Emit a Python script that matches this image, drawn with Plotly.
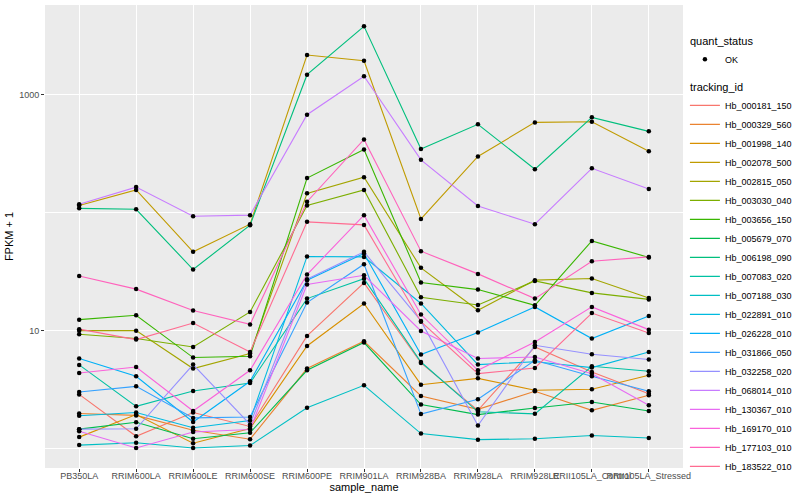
import plotly.graph_objects as go

samples = ["PB350LA", "RRIM600LA", "RRIM600LE", "RRIM600SE", "RRIM600PE", "RRIM901LA",
           "RRIM928BA", "RRIM928LA", "RRIM928LE", "RRII105LA_Control", "RRII105LA_Stressed"]

tracking_ids = ["Hb_000181_150", "Hb_000329_560", "Hb_001998_140", "Hb_002078_500", "Hb_002815_050",
                "Hb_003030_040", "Hb_003656_150", "Hb_005679_070", "Hb_006198_090", "Hb_007083_020",
                "Hb_007188_030", "Hb_022891_010", "Hb_026228_010", "Hb_031866_050", "Hb_032258_020",
                "Hb_068014_010", "Hb_130367_010", "Hb_169170_010", "Hb_177103_010", "Hb_183522_010"]

colors = ["#F8766D", "#EA8331", "#D89000", "#C09B00", "#A3A500", "#7CAE00", "#39B600", "#00BB4E",
          "#00BF7D", "#00C1A3", "#00BFC4", "#00BAE0", "#00B0F6", "#35A2FF", "#9590FF", "#C77CFF",
          "#E76BF3", "#FA62DB", "#FF62BC", "#FF6C91"]

# FPKM + 1 per sample (same order as samples)
Hb_000181_150 = [2.88, 1.27, 2.02, 1.54, 9.02, 25.4, 5.32, 2.11, 7.27, 4.46, 2.92]
Hb_000329_560 = [1.98, 1.91, 1.43, 1.20, 4.77, 8.13, 2.79, 2.15, 3.06, 2.11, 2.83]
Hb_001998_140 = [1.25, 1.94, 1.11, 1.48, 7.41, 17.0, 3.48, 3.94, 3.12, 3.18, 4.18]
Hb_002078_500 = [115, 156, 46.6, 80, 2177, 1947, 88.7, 300, 584, 591, 333]
Hb_002815_050 = [10.0, 10.0, 4.77, 6.39, 146, 200, 34.1, 14.9, 26.8, 27.7, 18.9]
Hb_003030_040 = [9.32, 8.57, 7.27, 14.4, 115, 156, 19.2, 16.5, 26.4, 20.9, 18.4]
Hb_003656_150 = [12.4, 13.5, 5.91, 6.06, 197, 344, 25.6, 22.3, 16.4, 57.7, 41.8]
Hb_005679_070 = [1.46, 1.67, 1.21, 1.36, 4.61, 7.93, 2.36, 1.94, 2.21, 2.48, 2.08]
Hb_006198_090 = [109, 107, 33, 78.5, 1482, 3813, 347, 562, 234, 644, 490]
Hb_007083_020 = [5.12, 2.28, 3.08, 3.60, 18.7, 27.6, 5.42, 2.05, 1.97, 4.99, 4.52]
Hb_007188_030 = [1.07, 1.12, 1.01, 1.06, 2.22, 3.44, 1.34, 1.19, 1.21, 1.29, 1.23]
Hb_022891_010 = [1.90, 2.02, 1.50, 1.73, 42.6, 42.2, 17.0, 5.15, 5.45, 4.86, 6.59]
Hb_026228_010 = [5.80, 4.10, 1.68, 3.72, 26.8, 45.1, 6.27, 9.64, 15.9, 8.57, 13.3]
Hb_031866_050 = [3.02, 3.37, 1.82, 1.85, 17.3, 36.6, 1.96, 2.62, 5.61, 4.10, 3.06]
Hb_032258_020 = [1.46, 1.47, 5.15, 1.60, 27.3, 46.6, 12.1, 1.57, 7.52, 6.31, 5.69]
Hb_068014_010 = [118, 165, 93.5, 95.4, 678, 1436, 281, 114, 80, 238, 159]
Hb_130367_010 = [1.40, 1.01, 1.38, 1.45, 24.6, 29.5, 9.94, 5.80, 5.98, 4.31, 2.33]
Hb_169170_010 = [4.37, 4.92, 2.08, 4.61, 29.9, 95.4, 13.7, 4.61, 8.02, 15.9, 10.2]
Hb_177103_010 = [29.1, 22.5, 14.8, 11.3, 124, 419, 47.2, 30.3, 18.7, 38.8, 42.2]
Hb_183522_010 = [10.3, 8.40, 11.6, 6.59, 83.7, 78.9, 11.9, 4.32, 4.82, 14.1, 9.56]

series = [Hb_000181_150, Hb_000329_560, Hb_001998_140, Hb_002078_500, Hb_002815_050,
          Hb_003030_040, Hb_003656_150, Hb_005679_070, Hb_006198_090, Hb_007083_020,
          Hb_007188_030, Hb_022891_010, Hb_026228_010, Hb_031866_050, Hb_032258_020,
          Hb_068014_010, Hb_130367_010, Hb_169170_010, Hb_177103_010, Hb_183522_010]

FONT = "Liberation Sans, Arial, sans-serif"

fig = go.Figure()

for i, (tid, col, vals) in enumerate(zip(tracking_ids, colors, series)):
    fig.add_trace(go.Scatter(
        x=samples, y=vals, mode="lines", name=tid,
        line=dict(color=col, width=1.1),
        legendgroup="tracking_id", legendgrouptitle_text="tracking_id",
        legendrank=100 + i, hoverinfo="x+y+name"))

all_x = [s for vals in series for s in samples]
all_y = [v for vals in series for v in vals]
fig.add_trace(go.Scatter(
    x=all_x, y=all_y, mode="markers", name="OK",
    marker=dict(color="black", size=4.5),
    legendgroup="quant_status", legendgrouptitle_text="quant_status",
    legendrank=1))

fig.update_layout(
    width=800, height=500,
    margin=dict(l=45, r=117, t=5, b=32, autoexpand=False),
    paper_bgcolor="white", plot_bgcolor="#EBEBEB",
    font=dict(family=FONT, size=9, color="black"),
    legend=dict(x=1.003, xanchor="left", y=0.955, yanchor="top",
                font=dict(size=9, color="black"),
                grouptitlefont=dict(size=11, color="black"),
                itemwidth=30,
                tracegroupgap=8, bgcolor="rgba(0,0,0,0)"),
    showlegend=True,
)

fig.update_xaxes(
    type="category", range=[-0.6, 10.6],
    showgrid=True, gridcolor="white", gridwidth=1.1,
    ticks="outside", ticklen=3, tickcolor="#333333",
    tickfont=dict(size=9, color="#4D4D4D"),
    tickangle=0, ticklabelstandoff=-4,
    title=dict(text="sample_name", font=dict(size=11, color="black"), standoff=2),
    zeroline=False, showline=False,
)

fig.update_yaxes(
    type="log", range=[-0.165, 3.762],
    tickvals=[10, 1000], ticktext=["10", "1000"],
    showgrid=True, gridcolor="white", gridwidth=1.1,
    minor=dict(tickvals=[1, 100], showgrid=True, gridcolor="white", gridwidth=0.6, ticks=""),
    ticks="outside", ticklen=3, tickcolor="#333333",
    tickfont=dict(size=9, color="#4D4D4D"),
    title=dict(text="FPKM + 1", font=dict(size=11, color="black"), standoff=3),
    zeroline=False, showline=False,
)

fig.write_html("out.html", config={"displayModeBar": False},
               post_script="document.body.style.margin='0';")
